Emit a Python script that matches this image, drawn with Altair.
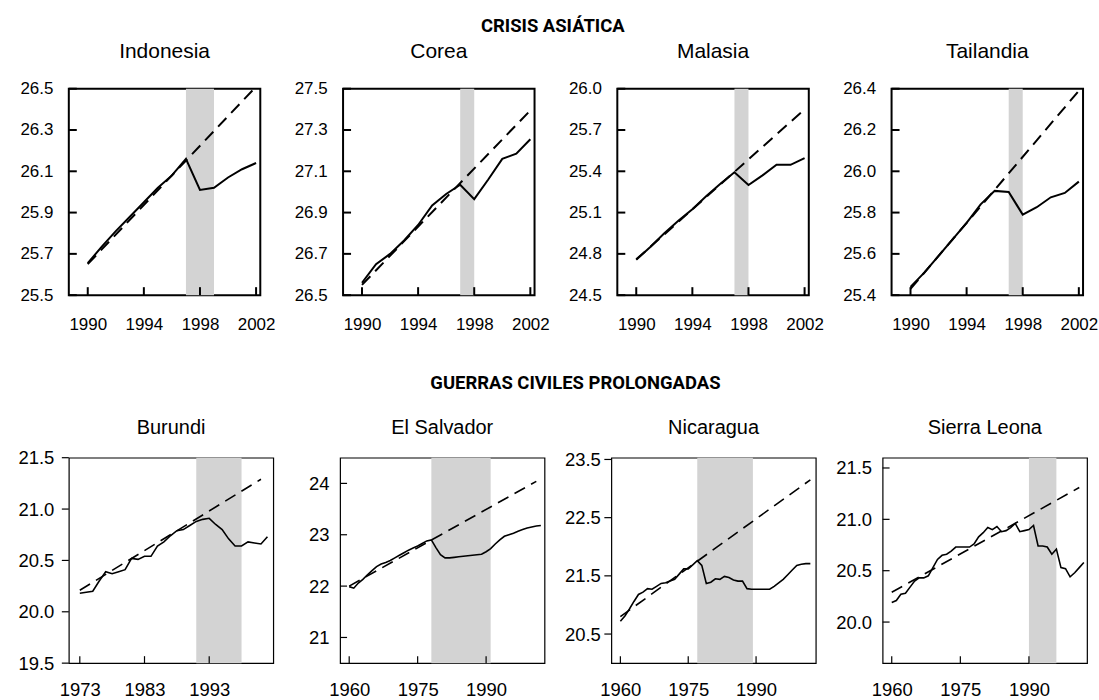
import altair as alt
import pandas as pd

# ---------------- Data: Crisis asiática (1990-2002) ----------------
years_asia = list(range(1990, 2003))
indonesia = [25.655, 25.735, 25.81, 25.88, 25.95, 26.02, 26.08, 26.16, 26.01, 26.02, 26.07, 26.11, 26.14]
corea = [26.56, 26.65, 26.70, 26.765, 26.84, 26.935, 26.99, 27.035, 26.965, 27.06, 27.16, 27.185, 27.255]
malasia = [24.757, 24.85, 24.95, 25.04, 25.124, 25.22, 25.31, 25.393, 25.30, 25.37, 25.447, 25.447, 25.496]
tailandia = [25.44, 25.51, 25.59, 25.67, 25.75, 25.84, 25.905, 25.90, 25.79, 25.826, 25.874, 25.895, 25.95]

trend_years_asia = [1990, 2002]
indonesia_trend = [25.65, 26.51]
corea_trend = [26.55, 27.395]
malasia_trend = [24.76, 25.85]
tailandia_trend = [25.43, 26.39]

# ---------------- Data: Guerras civiles prolongadas ----------------
years_burundi = list(range(1973, 2003))
burundi = [20.18, 20.19, 20.20, 20.30, 20.39, 20.37, 20.39, 20.41, 20.52, 20.51,
           20.54, 20.54, 20.64, 20.68, 20.74, 20.79, 20.80, 20.84, 20.88, 20.90,
           20.91, 20.85, 20.80, 20.71, 20.64, 20.64, 20.68, 20.67, 20.66, 20.73]
burundi_trend_years = [1973, 2001]
burundi_trend = [20.21, 21.29]

years_1960 = list(range(1960, 2003))
el_salvador = [21.99, 21.96, 22.06, 22.13, 22.22, 22.30, 22.38, 22.43, 22.46, 22.50,
               22.55, 22.60, 22.65, 22.70, 22.74, 22.78, 22.83, 22.88, 22.90, 22.75,
               22.61, 22.55, 22.55, 22.56, 22.57, 22.58, 22.59, 22.60, 22.61, 22.62,
               22.67, 22.73, 22.82, 22.90, 22.97, 23.00, 23.03, 23.07, 23.10, 23.13,
               23.15, 23.17, 23.18]
el_salvador_trend_years = [1960, 2001]
el_salvador_trend = [22.0, 24.04]

nicaragua = [20.72, 20.81, 20.93, 21.06, 21.18, 21.22, 21.28, 21.27, 21.32, 21.37,
             21.38, 21.41, 21.44, 21.53, 21.62, 21.62, 21.69, 21.76, 21.68, 21.37,
             21.39, 21.45, 21.44, 21.49, 21.47, 21.43, 21.41, 21.41, 21.28, 21.27,
             21.27, 21.27, 21.27, 21.27, 21.32, 21.38, 21.44, 21.52, 21.60, 21.68,
             21.70, 21.71, 21.71]
nicaragua_trend_years = [1960, 2002]
nicaragua_trend = [20.80, 23.15]

sierra_leona = [20.19, 20.21, 20.27, 20.28, 20.34, 20.40, 20.43, 20.43, 20.45, 20.53,
                20.61, 20.65, 20.66, 20.69, 20.73, 20.73, 20.73, 20.73, 20.76, 20.83,
                20.87, 20.92, 20.90, 20.93, 20.88, 20.89, 20.92, 20.96, 20.88, 20.89,
                20.90, 20.94, 20.74, 20.74, 20.73, 20.66, 20.71, 20.53, 20.52, 20.44,
                20.48, 20.53, 20.58]
sierra_leona_trend_years = [1960, 2001]
sierra_leona_trend = [20.29, 21.31]

FONT = "Liberation Sans"
TITLE_FONT = "Roboto"


def panel(name, years, values, tyears, tvalues, shade, xdom, ydom, xticks, yticks,
          yfmt, top, ytick_out=False, ylabpad=None, title_offset=20):
    W, H = (192, 207) if top else (205, 206)
    lw = 2.0 if top else 1.6
    tlen = 8 if top else 7
    tw = 2 if top else 1.2
    fs = 17 if top else 18.5
    xs = alt.Scale(domain=xdom, nice=False, zero=False)
    ys = alt.Scale(domain=ydom, nice=False, zero=False)
    xaxis = alt.Axis(values=xticks, format="d", ticks=False, tickSize=0, domain=False,
                     grid=False, labelPadding=21 if top else 17, labelFontSize=fs,
                     labelFlush=False, labelOverlap=False, title=None)
    yaxis = alt.Axis(values=yticks, format=yfmt, ticks=False, tickSize=0, domain=False,
                     grid=False, labelPadding=(ylabpad if ylabpad is not None else (16 if top else 11)),
                     labelFontSize=fs, labelFlush=False, labelOverlap=False, title=None)

    line_df = pd.DataFrame({"year": years, "value": values})
    trend_df = pd.DataFrame({"year": tyears, "value": tvalues})
    shade_df = pd.DataFrame({"start": [shade[0]], "end": [shade[1]]})
    xt_df = pd.DataFrame({"year": xticks})
    yt_df = pd.DataFrame({"value": yticks})

    shade_layer = alt.Chart(shade_df).mark_rect(color="#d3d3d3").encode(
        x=alt.X("start:Q", scale=xs, axis=xaxis), x2="end:Q",
        y=alt.value(0), y2=alt.value(H))
    trend_layer = alt.Chart(trend_df).mark_line(
        color="black", strokeWidth=lw, strokeDash=[12, 7], clip=True).encode(
        x=alt.X("year:Q", scale=xs, axis=xaxis),
        y=alt.Y("value:Q", scale=ys, axis=yaxis))
    line_layer = alt.Chart(line_df).mark_line(
        color="black", strokeWidth=lw, clip=True).encode(
        x=alt.X("year:Q", scale=xs, axis=xaxis),
        y=alt.Y("value:Q", scale=ys, axis=yaxis))
    xtick_layer = alt.Chart(xt_df).mark_rule(color="black", strokeWidth=tw).encode(
        x=alt.X("year:Q", scale=xs, axis=xaxis),
        y=alt.value(H), y2=alt.value(H - tlen))
    if ytick_out:
        ytick_layer = alt.Chart(yt_df).mark_rule(color="black", strokeWidth=tw).encode(
            y=alt.Y("value:Q", scale=ys, axis=yaxis),
            x=alt.value(-tlen), x2=alt.value(0))
    else:
        ytick_layer = alt.Chart(yt_df).mark_rule(color="black", strokeWidth=tw).encode(
            y=alt.Y("value:Q", scale=ys, axis=yaxis),
            x=alt.value(0), x2=alt.value(tlen))

    return alt.layer(shade_layer, trend_layer, line_layer, xtick_layer, ytick_layer).properties(
        width=W, height=H,
        title=alt.TitleParams(name, font=FONT, fontSize=21 if top else 20,
                              fontWeight="normal", color="black", anchor="middle",
                              frame="group", offset=title_offset),
        view=alt.ViewBackground(stroke="black", strokeWidth=2 if top else 1.2))


top_x = [1988.65, 2002.3]
top_ticks = [1990, 1994, 1998, 2002]
row1 = alt.hconcat(
    panel("Indonesia", years_asia, indonesia, trend_years_asia, indonesia_trend, [1997, 1999],
          top_x, [25.5, 26.5], top_ticks, [25.5, 25.7, 25.9, 26.1, 26.3, 26.5], ".1f", True,
          title_offset=18),
    panel("Corea", years_asia, corea, trend_years_asia, corea_trend, [1997, 1998],
          top_x, [26.5, 27.5], top_ticks, [26.5, 26.7, 26.9, 27.1, 27.3, 27.5], ".1f", True,
          title_offset=18),
    panel("Malasia", years_asia, malasia, trend_years_asia, malasia_trend, [1997, 1998],
          top_x, [24.5, 26.0], top_ticks, [24.5, 24.8, 25.1, 25.4, 25.7, 26.0], ".1f", True,
          title_offset=18),
    panel("Tailandia", years_asia, tailandia, trend_years_asia, tailandia_trend, [1997, 1998],
          top_x, [25.4, 26.4], top_ticks, [25.4, 25.6, 25.8, 26.0, 26.2, 26.4], ".1f", True,
          title_offset=18),
    spacing=83, bounds="flush",
).properties(title=alt.TitleParams("CRISIS ASIÁTICA", font=TITLE_FONT, fontSize=18.5,
                                   fontWeight="bold", color="black", anchor="middle", offset=4,
                                   dx=-6))

row2 = alt.hconcat(
    panel("Burundi", years_burundi, burundi, burundi_trend_years, burundi_trend, [1991, 1998],
          [1971.3, 2002.9], [19.5, 21.5], [1973, 1983, 1993], [19.5, 20.0, 20.5, 21.0, 21.5],
          ".1f", False, ytick_out=True, ylabpad=15, title_offset=11),
    panel("El Salvador", years_1960, el_salvador, el_salvador_trend_years, el_salvador_trend,
          [1978, 1991], [1958.0, 2002.8], [20.5, 24.5], [1960, 1975, 1990], [21, 22, 23, 24],
          "d", False, title_offset=20),
    panel("Nicaragua", years_1960, nicaragua, nicaragua_trend_years, nicaragua_trend,
          [1977, 1989.3], [1958.0, 2003.2], [20.0, 23.53], [1960, 1975, 1990],
          [20.5, 21.5, 22.5, 23.5], ".1f", False, ytick_out=True, title_offset=13),
    panel("Sierra Leona", years_1960, sierra_leona, sierra_leona_trend_years, sierra_leona_trend,
          [1990, 1996], [1958.0, 2002.7], [19.6, 21.6], [1960, 1975, 1990],
          [20.0, 20.5, 21.0, 21.5], ".1f", False, title_offset=20),
    spacing=67, bounds="flush",
).properties(title=alt.TitleParams("GUERRAS CIVILES PROLONGADAS", font=TITLE_FONT, fontSize=18.5,
                                   fontWeight="bold", color="black", anchor="middle", offset=25,
                                   dx=23))

chart = alt.vconcat(row1, row2, spacing=40).properties(
    padding={"left": 17, "top": 16, "right": 0, "bottom": 0},
    background="white",
).configure_axis(
    labelFont=FONT, labelColor="black"
).configure_title(font=FONT)

chart.save("out.html", embed_options={"renderer": "svg", "actions": False})
